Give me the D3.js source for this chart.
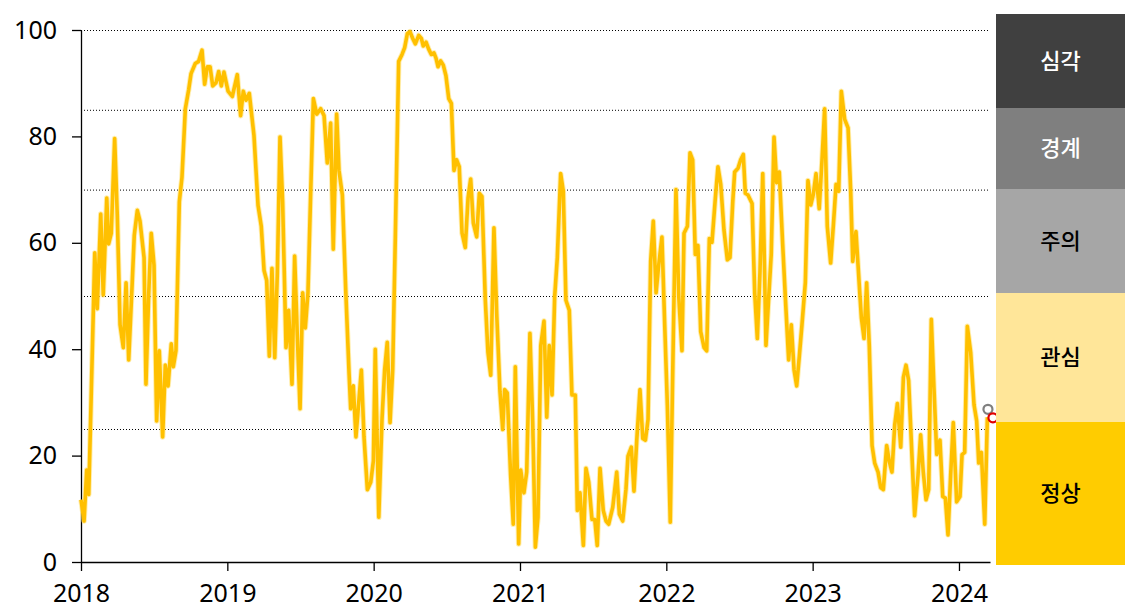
<!DOCTYPE html>
<html>
<head>
<meta charset="utf-8">
<script src="https://cdn.jsdelivr.net/npm/d3@7"></script>
<style>
  body { margin: 0; background: #fff; }
  svg { display: block; }
  .axis text { font-family: "Noto Sans", "Open Sans", sans-serif; font-size: 25px; fill: #000; }
  .axis path, .axis line { stroke: #000; stroke-width: 1.3; }
  .legend text { font-family: "Noto Sans CJK KR", sans-serif; font-size: 22px; font-weight: 500; }
</style>
</head>
<body>
<svg id="chart" width="1130" height="612"></svg>
<script>
// weekly index, time as decimal year
var dates = [
  2018.000,2018.021,2018.039,2018.053,2018.094,2018.111,2018.135,2018.152,2018.176,2018.189,
  2018.207,2018.230,2018.248,2018.267,2018.289,2018.308,2018.326,2018.349,2018.364,2018.385,
  2018.403,2018.431,2018.444,2018.463,2018.480,2018.499,2018.517,2018.535,2018.558,2018.576,
  2018.595,2018.617,2018.631,2018.649,2018.672,2018.690,2018.713,2018.736,2018.752,2018.781,
  2018.804,2018.827,2018.845,2018.863,2018.882,2018.900,2018.923,2018.941,2018.959,2018.977,
  2019.005,2019.034,2019.068,2019.091,2019.109,2019.128,2019.150,2019.182,2019.210,2019.232,
  2019.251,2019.269,2019.287,2019.305,2019.324,2019.342,2019.360,2019.378,2019.401,2019.419,
  2019.442,2019.460,2019.478,2019.497,2019.515,2019.533,2019.551,2019.570,2019.588,2019.611,
  2019.638,2019.661,2019.683,2019.706,2019.724,2019.747,2019.763,2019.786,2019.809,2019.832,
  2019.843,2019.861,2019.879,2019.916,2019.934,2019.957,2019.980,2019.998,
  2020.011,2020.035,2020.057,2020.075,2020.093,2020.112,2020.130,2020.148,2020.171,2020.194,
  2020.212,2020.230,2020.248,2020.267,2020.285,2020.308,2020.326,2020.339,2020.358,2020.376,
  2020.394,2020.412,2020.426,2020.440,2020.458,2020.476,2020.494,2020.513,2020.531,2020.549,
  2020.567,2020.585,2020.604,2020.626,2020.645,2020.663,2020.681,2020.704,2020.722,2020.740,
  2020.763,2020.781,2020.800,2020.822,2020.841,2020.863,2020.882,2020.895,2020.913,2020.936,
  2020.954,2020.968,2020.991,
  2021.005,2021.027,2021.046,2021.068,2021.087,2021.105,2021.123,2021.142,2021.164,2021.183,
  2021.200,2021.219,2021.237,2021.255,2021.278,2021.296,2021.314,2021.337,2021.355,2021.378,
  2021.392,2021.410,2021.433,2021.451,2021.470,2021.492,2021.511,2021.528,2021.547,2021.569,
  2021.588,2021.606,2021.634,2021.661,2021.679,2021.702,2021.724,2021.738,2021.761,2021.779,
  2021.798,2021.820,2021.839,2021.857,2021.875,2021.893,2021.911,2021.930,2021.948,2021.970,
  2021.989,
  2022.007,2022.027,2022.048,2022.066,2022.085,2022.107,2022.121,2022.144,2022.162,2022.180,
  2022.198,2022.216,2022.235,2022.258,2022.276,2022.294,2022.312,2022.335,2022.353,2022.372,
  2022.394,2022.417,2022.435,2022.454,2022.467,2022.490,2022.508,2022.526,2022.540,2022.558,
  2022.586,2022.604,2022.622,2022.640,2022.659,2022.681,2022.700,2022.717,2022.736,2022.754,
  2022.772,2022.795,2022.818,2022.836,2022.854,2022.873,2022.891,2022.909,2022.927,2022.950,
  2022.968,2022.987,
  2023.004,2023.023,2023.045,2023.064,2023.082,2023.100,2023.123,2023.141,2023.160,2023.178,
  2023.196,2023.219,2023.242,2023.260,2023.274,2023.296,2023.319,2023.333,2023.351,2023.369,
  2023.387,2023.406,2023.424,2023.447,2023.465,2023.483,2023.506,2023.524,2023.542,2023.561,
  2023.579,2023.602,2023.620,2023.638,2023.656,2023.674,2023.697,2023.720,2023.738,2023.756,
  2023.775,2023.793,2023.811,2023.829,2023.848,2023.870,2023.889,2023.907,2023.925,2023.943,
  2023.961,2023.984,
  2024.007,2024.021,2024.039,2024.057,2024.080,2024.103,2024.121,2024.135,2024.153,2024.176,
  2024.194
];
var values = [
  11.7,7.7,17.3,12.7,58.1,47.6,65.4,50.2,68.4,59.8,
  61.8,79.6,65.1,44.6,40.3,52.5,38.0,51.9,61.4,66.1,
  64.1,57.2,33.4,50.6,61.8,55.8,26.5,39.7,23.5,37.0,
  33.1,41.0,36.7,39.7,67.7,72.3,85.2,88.8,91.8,93.7,
  94.1,96.2,89.8,93.1,93.1,89.5,90.1,92.2,89.5,92.1,
  88.5,87.5,91.6,83.9,88.5,86.8,88.1,80.2,67.0,63.1,
  54.8,52.9,38.7,55.2,38.4,54.5,79.9,67.7,40.3,47.3,
  33.4,57.5,42.7,28.8,50.6,44.0,50.6,69.7,87.1,84.2,
  85.2,83.9,75.0,82.5,58.8,84.2,73.6,69.0,51.2,35.4,
  28.8,33.1,23.5,36.1,23.5,13.6,15.0,19.0,
  40.0,8.4,26.8,36.1,41.3,26.2,36.1,61.1,94.1,95.4,
  96.7,99.3,99.7,98.4,97.4,99.0,98.4,97.0,97.7,96.4,
  95.4,95.7,94.7,93.1,94.2,93.4,91.4,87.1,86.2,73.6,
  75.6,74.3,61.8,59.1,68.4,72.0,63.7,61.1,69.3,68.7,
  49.2,39.4,35.1,62.8,46.6,32.1,24.9,32.4,31.8,16.3,
  7.1,36.7,3.4,
  17.3,13.0,16.9,43.0,26.2,2.8,8.4,40.7,45.3,27.2,
  40.7,31.4,49.9,57.2,73.0,69.7,49.2,47.3,31.4,31.4,
  9.7,13.0,3.1,17.6,15.0,8.0,8.0,3.1,17.6,9.7,
  7.7,7.1,10.3,16.9,9.0,7.7,13.6,19.9,21.6,13.3,
  22.9,32.4,23.2,22.9,26.8,56.5,64.1,50.6,55.8,61.1,
  44.6,
  29.5,7.5,42.7,70.0,49.9,39.7,61.8,63.1,76.9,75.6,
  57.8,59.5,43.3,40.3,39.7,60.8,60.1,68.4,74.3,71.0,
  62.4,56.8,57.2,67.7,73.3,74.0,75.6,76.6,69.3,69.0,
  67.4,50.6,42.0,54.5,73.0,40.7,49.9,57.8,79.9,71.3,
  73.3,59.8,47.3,38.0,44.6,36.1,33.1,38.7,44.6,52.5,
  71.7,67.1,
  69.0,73.0,66.4,75.6,85.2,63.1,56.2,63.1,71.0,69.7,
  88.5,83.2,81.6,69.7,56.5,62.1,51.9,45.9,42.0,52.5,
  40.7,21.9,18.6,16.9,14.0,13.6,21.9,18.9,16.9,25.8,
  29.8,21.6,34.7,37.0,34.1,22.9,8.7,16.3,23.9,16.9,
  11.7,13.6,45.6,32.8,20.2,22.9,12.3,12.0,5.1,16.3,
  26.2,11.3,
  12.3,20.2,20.6,44.3,39.4,29.5,26.5,18.6,20.6,7.1,
  27.2
];

// latest readings shown as hollow markers
var markerDates = [2024.198, 2024.232];
var markerValues = [28.7, 27.1];
var markerColors = ["#7f7f7f", "#e00000"];

// axis ticks and reference lines
var yearTicks = [2018, 2019, 2020, 2021, 2022, 2023, 2024];
var yTicks = [0, 20, 40, 60, 80, 100];
var gridLevels = [100, 85, 70, 50, 25];

// alert stages on the right
var stageNames = ["심각", "경계", "주의", "관심", "정상"];
var stageTops = [100, 85, 70, 50, 25];
var stageBottoms = [85, 70, 50, 25, 0];
var stageFills = ["#404040", "#7f7f7f", "#a6a6a6", "#ffe699", "#ffcc00"];
var stageText = ["#fff", "#fff", "#000", "#000", "#000"];

var svg = d3.select("#chart");

var x = d3.scaleLinear().domain([2018, 2024.212]).range([81, 990]);
var y = d3.scaleLinear().domain([0, 100]).range([562, 30]);
// the stage boxes are laid out on their own (not quite proportional) scale
var yStage = d3.scaleLinear().domain([0, 25, 50, 70, 85, 100]).range([565, 422, 293, 189, 108, 14]);

// dotted reference lines
svg.append("g").selectAll("line")
  .data(gridLevels)
  .enter().append("line")
  .attr("x1", x(2018)).attr("x2", x.range()[1])
  .attr("y1", function(d){ return y(d) + 0.5; })
  .attr("y2", function(d){ return y(d) + 0.5; })
  .style("stroke", "#000").style("stroke-width", 1)
  .style("stroke-dasharray", "1,2");

// axes
svg.append("g").attr("class", "axis")
  .attr("transform", "translate(0," + y(0) + ")")
  .call(d3.axisBottom(x).tickValues(yearTicks).tickFormat(d3.format("d"))
        .tickSize(9).tickSizeOuter(0).tickPadding(13));

svg.append("g").attr("class", "axis")
  .attr("transform", "translate(" + x(2018) + ",0)")
  .call(d3.axisLeft(y).tickValues(yTicks).tickSize(9).tickSizeOuter(0).tickPadding(15));

// the index line, soft halo first then the line itself
var line = d3.line()
  .x(function(d, i){ return x(dates[i]); })
  .y(function(d){ return y(d); });

svg.append("path").datum(values)
  .attr("d", line)
  .style("fill", "none").style("stroke", "#ffe27a")
  .style("stroke-width", 5.5).style("stroke-linejoin", "round")
  .style("opacity", 0.6);

svg.append("path").datum(values)
  .attr("d", line)
  .style("fill", "none").style("stroke", "#ffc000")
  .style("stroke-width", 3.6).style("stroke-linejoin", "round");

// hollow markers for the latest values
svg.append("g").selectAll("circle")
  .data(markerValues)
  .enter().append("circle")
  .attr("cx", function(d, i){ return x(markerDates[i]); })
  .attr("cy", function(d){ return y(d); })
  .attr("r", 4.5)
  .style("fill", "#fff")
  .style("stroke", function(d, i){ return markerColors[i]; })
  .style("stroke-width", 2.2);

// stage legend
var legend = svg.append("g").attr("class", "legend");
legend.selectAll("rect")
  .data(stageNames)
  .enter().append("rect")
  .attr("x", 996).attr("width", 129)
  .attr("y", function(d, i){ return yStage(stageTops[i]); })
  .attr("height", function(d, i){ return yStage(stageBottoms[i]) - yStage(stageTops[i]); })
  .style("fill", function(d, i){ return stageFills[i]; });

legend.selectAll("text")
  .data(stageNames)
  .enter().append("text")
  .attr("x", 996 + 129 / 2)
  .attr("y", function(d, i){ return (yStage(stageTops[i]) + yStage(stageBottoms[i])) / 2; })
  .attr("dy", "0.35em")
  .style("text-anchor", "middle")
  .style("fill", function(d, i){ return stageText[i]; })
  .text(function(d){ return d; });
</script>
</body>
</html>
